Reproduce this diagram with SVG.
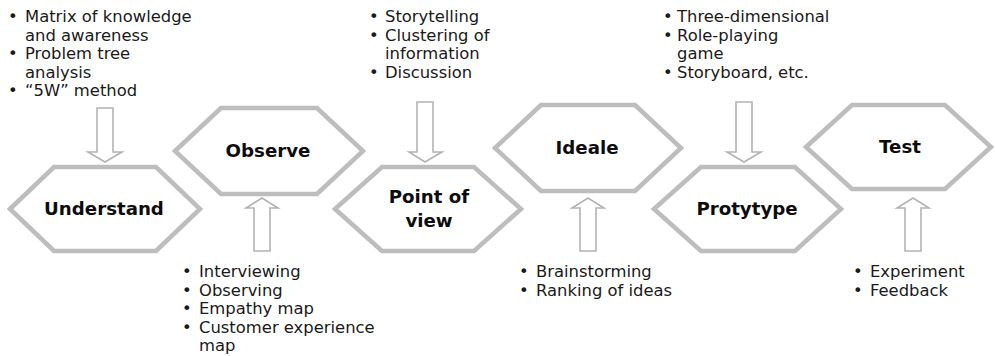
<svg xmlns="http://www.w3.org/2000/svg" width="995" height="356" viewBox="0 0 995 356">
<style>
.hex{fill:#fff;stroke:#bdbdbd;stroke-width:4.5;stroke-linejoin:miter}
.arr{fill:#fff;stroke:#b3b3b3;stroke-width:1.6;stroke-linejoin:miter}
.lbl{font-family:"DejaVu Sans",sans-serif;font-weight:bold;font-size:18.2px;fill:#0d0d0d;text-anchor:middle}
.t{font-family:"DejaVu Sans",sans-serif;font-size:16.4px;fill:#1a1a1a}
</style>
<rect width="995" height="356" fill="#fff"/>
<g id="connectors">
<polygon class="arr" points="97,108 113,108 113,152 122,152 105,162 88,152 97,152"/>
<polygon class="arr" points="417,102 433,102 433,152 442,152 425,162 409,152 417,152"/>
<polygon class="arr" points="736,102 752,102 752,152 761,152 744,162 727,152 736,152"/>
<polygon class="arr" points="254,251 270,251 270,208 278,208 262,198 246,208 254,208"/>
<polygon class="arr" points="580,251 596,251 596,208 604,208 588,198 572,208 580,208"/>
<polygon class="arr" points="905,251 921,251 921,208 929,208 913,198 897,208 905,208"/>
</g>
<g id="understand">
<polygon class="hex" points="10,209 54,167 156,167 200,209 156,251 54,251"/>
<text class="lbl" x="104" y="215">Understand</text>
</g>
<g id="observe">
<polygon class="hex" points="175,151 221,108 317,108 363,151 317,194 221,194"/>
<text class="lbl" x="268" y="157">Observe</text>
</g>
<g id="point-of-view">
<polygon class="hex" points="335,209 382,167 474,167 521,209 474,251 382,251"/>
<text class="lbl" x="429" y="203">Point of</text>
<text class="lbl" x="429" y="227">view</text>
</g>
<g id="ideale">
<polygon class="hex" points="495,148 541,105 635,105 681,148 635,191 541,191"/>
<text class="lbl" x="587" y="154">Ideale</text>
</g>
<g id="prototype">
<polygon class="hex" points="654,209 701,167 795,167 841,209 795,251 701,251"/>
<text class="lbl" x="747" y="215">Protytype</text>
</g>
<g id="test">
<polygon class="hex" points="806,147 852,105 945,105 991,147 945,189 852,189"/>
<text class="lbl" x="900" y="153">Test</text>
</g>
<g id="notes-understand" class="t">
<text x="8" y="22">•</text><text x="25" y="22">Matrix of knowledge</text>
<text x="25" y="40.5">and awareness</text>
<text x="8" y="59">•</text><text x="25" y="59">Problem tree</text>
<text x="25" y="77.5">analysis</text>
<text x="8" y="96">•</text><text x="25" y="96">“5W” method</text>
</g>
<g id="notes-pov" class="t">
<text x="369" y="22">•</text><text x="385" y="22">Storytelling</text>
<text x="369" y="40.5">•</text><text x="385" y="40.5">Clustering of</text>
<text x="385" y="59">information</text>
<text x="369" y="77.5">•</text><text x="385" y="77.5">Discussion</text>
</g>
<g id="notes-prototype" class="t">
<text x="663" y="22">•</text><text x="677" y="22">Three-dimensional</text>
<text x="663" y="40.5">•</text><text x="677" y="40.5">Role-playing</text>
<text x="677" y="59">game</text>
<text x="663" y="77.5">•</text><text x="677" y="77.5">Storyboard, etc.</text>
</g>
<g id="notes-observe" class="t">
<text x="182" y="277">•</text><text x="199" y="277">Interviewing</text>
<text x="182" y="295.5">•</text><text x="199" y="295.5">Observing</text>
<text x="182" y="314">•</text><text x="199" y="314">Empathy map</text>
<text x="182" y="332.5">•</text><text x="199" y="332.5">Customer experience</text>
<text x="199" y="351">map</text>
</g>
<g id="notes-ideale" class="t">
<text x="519" y="277">•</text><text x="536" y="277">Brainstorming</text>
<text x="519" y="295.5">•</text><text x="536" y="295.5">Ranking of ideas</text>
</g>
<g id="notes-test" class="t">
<text x="853" y="277">•</text><text x="870" y="277">Experiment</text>
<text x="853" y="295.5">•</text><text x="870" y="295.5">Feedback</text>
</g>
</svg>
